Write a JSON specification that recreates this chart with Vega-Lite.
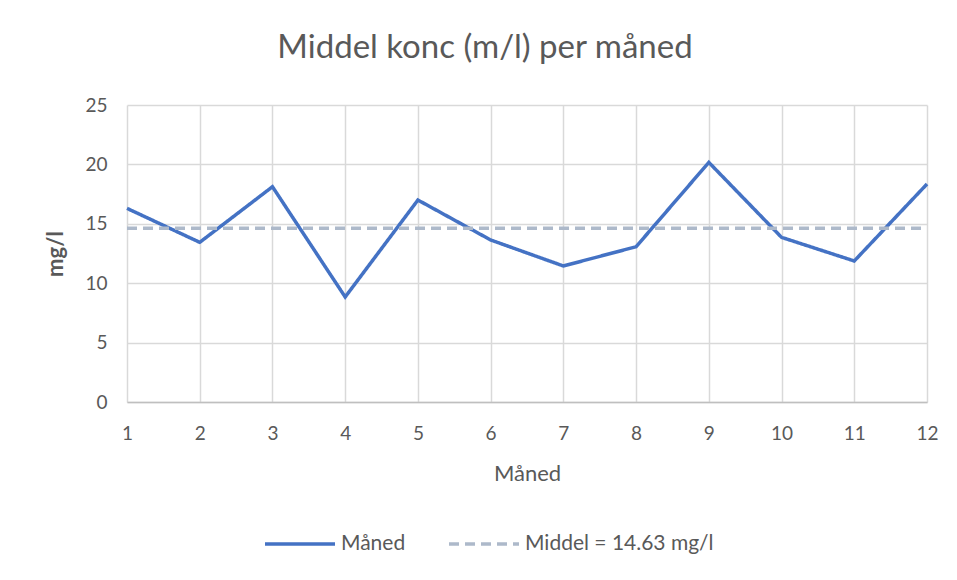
{
  "$schema": "https://vega.github.io/schema/vega-lite/v6.json",
  "autosize": "none",
  "width": 800,
  "height": 297,
  "padding": {"left": 127, "top": 105, "right": 30, "bottom": 178},
  "background": "white",
  "title": {
    "text": "Middel konc (m/l) per måned",
    "fontSize": 33,
    "font": "Lato",
    "fontWeight": "normal",
    "color": "#595959",
    "offset": 31,
    "dx": -42
  },
  "data": {
    "values": [
      {"month": 1, "value": 16.3, "series": "Måned"},
      {"month": 2, "value": 13.44, "series": "Måned"},
      {"month": 3, "value": 18.12, "series": "Måned"},
      {"month": 4, "value": 8.84, "series": "Måned"},
      {"month": 5, "value": 17.0, "series": "Måned"},
      {"month": 6, "value": 13.64, "series": "Måned"},
      {"month": 7, "value": 11.45, "series": "Måned"},
      {"month": 8, "value": 13.07, "series": "Måned"},
      {"month": 9, "value": 20.17, "series": "Måned"},
      {"month": 10, "value": 13.86, "series": "Måned"},
      {"month": 11, "value": 11.87, "series": "Måned"},
      {"month": 12, "value": 18.35, "series": "Måned"},
      {"month": 1, "value": 14.63, "series": "Middel = 14.63 mg/l"},
      {"month": 12, "value": 14.63, "series": "Middel = 14.63 mg/l"}
    ]
  },
  "mark": {"type": "line", "strokeWidth": 3.5},
  "encoding": {
    "x": {
      "field": "month",
      "type": "quantitative",
      "title": "Måned",
      "scale": {"domain": [1, 12], "nice": false, "zero": false},
      "axis": {
        "values": [1, 2, 3, 4, 5, 6, 7, 8, 9, 10, 11, 12],
        "format": "d",
        "grid": true,
        "gridColor": "#D9D9D9",
        "gridWidth": 1.5,
        "domainColor": "#BFBFBF",
        "domainWidth": 1.5,
        "ticks": false,
        "labelFlush": false,
        "labelPadding": 22,
        "labelFontSize": 19,
        "labelFont": "Lato",
        "labelColor": "#595959",
        "titleFont": "Lato",
        "titleFontSize": 22,
        "titleFontWeight": "normal",
        "titleColor": "#595959",
        "titlePadding": 20
      }
    },
    "y": {
      "field": "value",
      "type": "quantitative",
      "title": "mg/l",
      "scale": {"domain": [0, 25], "nice": false},
      "axis": {
        "values": [0, 5, 10, 15, 20, 25],
        "grid": true,
        "gridColor": "#D9D9D9",
        "gridWidth": 1.5,
        "domain": false,
        "ticks": false,
        "labelPadding": 20,
        "labelFontSize": 19,
        "labelFont": "Lato",
        "labelColor": "#595959",
        "titleFont": "Lato",
        "titleFontSize": 22,
        "titleFontWeight": "bold",
        "titleColor": "#595959",
        "titlePadding": 17
      }
    },
    "color": {
      "field": "series",
      "type": "nominal",
      "scale": {"domain": ["Måned", "Middel = 14.63 mg/l"], "range": ["#4472C4", "#ADB9CA"]},
      "legend": {
        "title": null,
        "orient": "none",
        "legendX": 136,
        "legendY": 402,
        "direction": "horizontal",
        "symbolType": "stroke",
        "symbolSize": 4900,
        "symbolStrokeWidth": 3.5,
        "labelFont": "Lato",
        "labelFontSize": 21,
        "labelColor": "#595959",
        "labelLimit": 400,
        "columnPadding": 36,
        "labelOffset": 4
      }
    },
    "strokeDash": {
      "field": "series",
      "type": "nominal",
      "scale": {"domain": ["Måned", "Middel = 14.63 mg/l"], "range": [[1, 0], [10, 6]]},
      "legend": null
    }
  },
  "config": {
    "view": {"stroke": null}
  }
}
